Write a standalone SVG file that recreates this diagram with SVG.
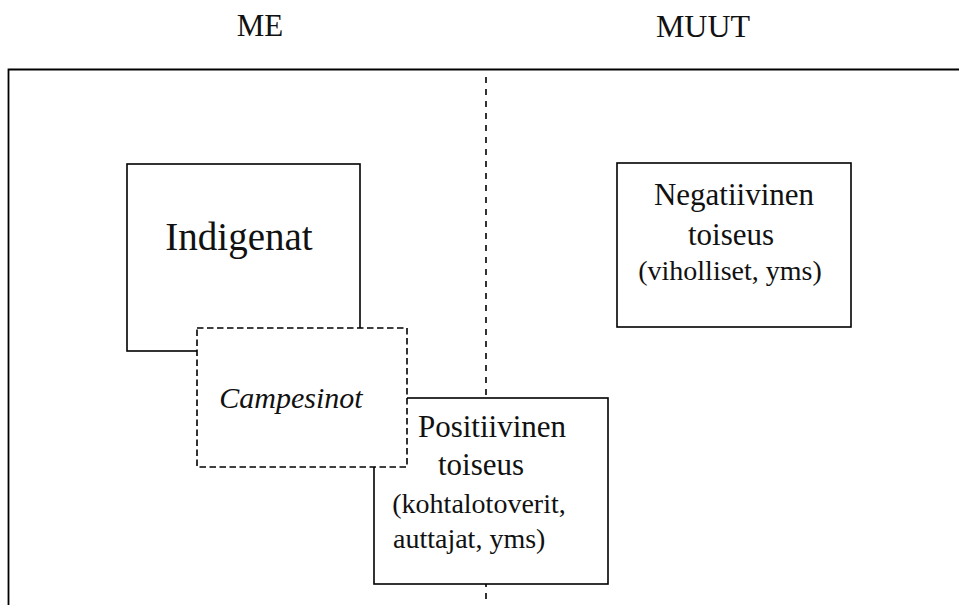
<svg xmlns="http://www.w3.org/2000/svg" width="959" height="605" viewBox="0 0 959 605">
<style>
.t{font-family:"Liberation Serif","Times New Roman",serif;fill:#111;}
.box{fill:#fff;stroke:#000;stroke-width:1.6;}
.dbox{fill:#fff;stroke:#000;stroke-width:1.6;stroke-dasharray:6.5 3.5;}
.frame{fill:none;stroke:#000;stroke-width:1.8;}
.cl{fill:none;stroke:#000;stroke-width:1.6;stroke-dasharray:6 6;}
</style>
<rect width="959" height="605" fill="#fff"/>
<g id="headers">
<text class="t" x="260" y="36" font-size="31" text-anchor="middle">ME</text>
<text class="t" x="703" y="37" font-size="32" text-anchor="middle">MUUT</text>
</g>
<g id="connectors">
<path class="frame" d="M8.5,605 V69.5 H959"/>
<path class="cl" d="M486,77 V605"/>
</g>
<g id="indigenat">
<rect class="box" x="127" y="164" width="233" height="187"/>
<text class="t" x="239" y="250" font-size="39" text-anchor="middle">Indigenat</text>
</g>
<g id="negatiivinen">
<rect class="box" x="617" y="163" width="234" height="164"/>
<text class="t" x="734" y="205" font-size="31" text-anchor="middle">Negatiivinen</text>
<text class="t" x="731" y="245" font-size="31" text-anchor="middle">toiseus</text>
<text class="t" x="730" y="280" font-size="28" text-anchor="middle">(viholliset, yms)</text>
</g>
<g id="positiivinen">
<rect class="box" x="374" y="398" width="234" height="186"/>
<text class="t" x="492" y="437" font-size="31" text-anchor="middle">Positiivinen</text>
<text class="t" x="481" y="475" font-size="31" text-anchor="middle">toiseus</text>
<text class="t" x="479" y="513" font-size="28" text-anchor="middle">(kohtalotoverit,</text>
<text class="t" x="393" y="548" font-size="28">auttajat, yms)</text>
</g>
<g id="campesinot">
<rect class="dbox" x="197" y="328" width="210" height="139"/>
<text class="t" x="291" y="408" font-size="30" font-style="italic" text-anchor="middle">Campesinot</text>
</g>
</svg>
